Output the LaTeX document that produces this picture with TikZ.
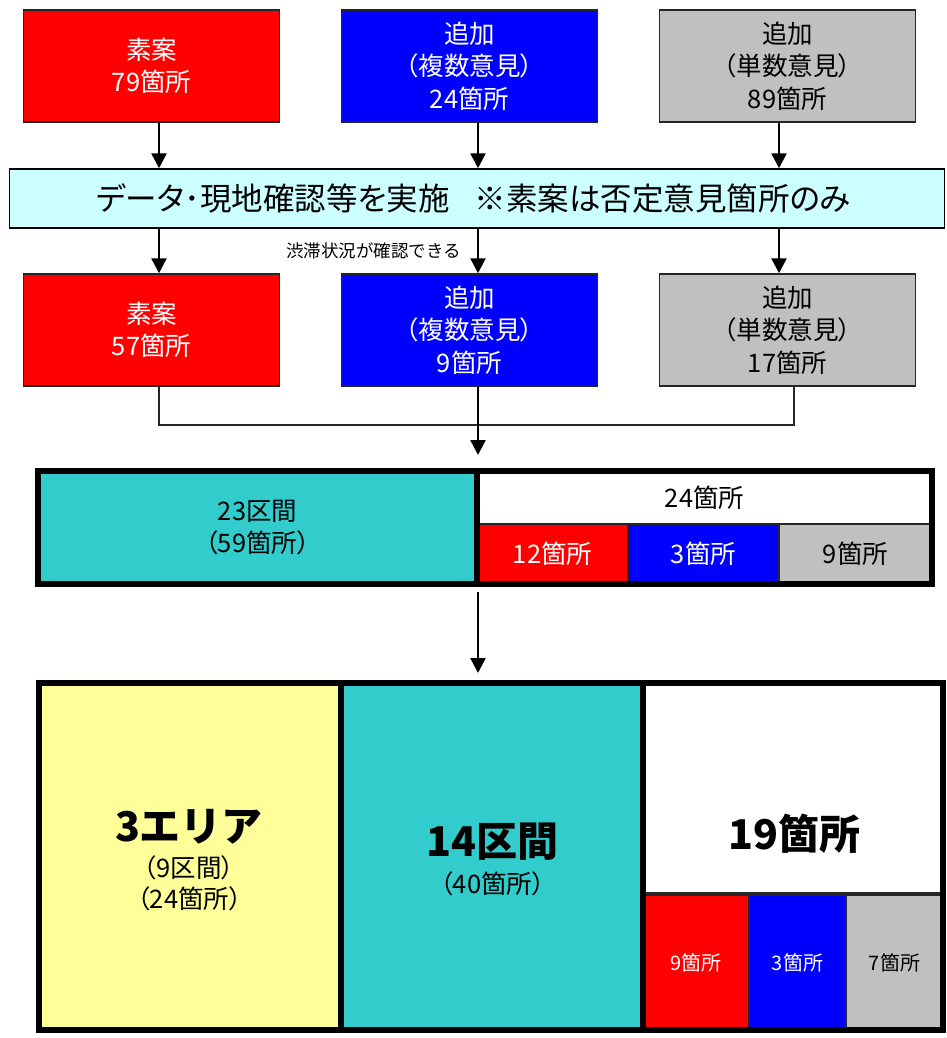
\documentclass[tikz,border=0pt]{standalone}
\usepackage{fontspec}
\newfontfamily\jp{Noto Sans CJK JP}[RawFeature=+palt]
\newfontfamily\jpn{Noto Sans CJK JP}
\usetikzlibrary{arrows.meta}
\definecolor{tealc}{HTML}{33CCCC}
\definecolor{yellowc}{HTML}{FFFF99}
\definecolor{grayc}{HTML}{C0C0C0}
\definecolor{cyanc}{HTML}{CCFFFF}
\definecolor{redc}{HTML}{FF0000}
\definecolor{bluec}{HTML}{0000FF}
\begin{document}
\begin{tikzpicture}[x=1pt,y=-1pt,
  box/.style={draw=black!85, line width=1.5pt, minimum width=256pt, minimum height=112pt,
    inner sep=0pt, align=center, font=\jp\fontsize{25.5}{32.5}\selectfont},
  redbox/.style={box, fill=redc, text=white},
  bluebox/.style={box, fill=bluec, text=white},
  graybox/.style={box, fill=grayc, text=black},
  banner/.style={draw=black, line width=1.5pt, fill=cyanc, minimum width=935pt, minimum height=59pt,
    inner sep=0pt, font=\jp\fontsize{31.5}{38}\selectfont},
  arr/.style={line width=2.5pt, -{Triangle[length=15pt,width=15pt]}},
  conn/.style={line width=1.5pt, draw=black!85},
  cell/.style={draw=black!85, line width=1.5pt, inner sep=0pt, outer sep=0pt, align=center,
    font=\jp\fontsize{25.5}{32.5}\selectfont},
  frame/.style={draw=black, line width=6pt, inner sep=0pt},
  divider/.style={draw=black, line width=6pt},
  bigtxt/.style={inner sep=0pt, font=\jpn\bfseries\fontsize{41}{48}\selectfont},
  ptxt/.style={inner sep=0pt, font=\jp\fontsize{25.5}{30}\selectfont},
  subtxt/.style={font=\jp\fontsize{20}{24}\selectfont},
  note/.style={inner sep=0pt, font=\jpn\fontsize{17.5}{20}\selectfont}
]
\useasboundingbox (0,0) rectangle (947,1038);

% x positions of arrows
\coordinate (ax1) at (159,0);
\coordinate (ax2) at (478,0);
\coordinate (ax3) at (779,0);
\coordinate (cx3) at (794,0);

% top row
\node[redbox] (r1) at (151.5,66) {素案\\79箇所};
\node[bluebox] (b1) at (469.5,66) {追加\\（複数意見）\\24箇所};
\node[graybox] (g1) at (787.5,66) {追加\\（単数意見）\\89箇所};

% banner
\node[banner] (bn) at (477,198.5) {データ･現地確認等を実施\hspace{25pt}※素案は否定意見箇所のみ\hspace*{7pt}};

% second row
\node[redbox] (r2) at (151.5,330) {素案\\57箇所};
\node[bluebox] (b2) at (469.5,330) {追加\\（複数意見）\\9箇所};
\node[graybox] (g2) at (787.5,330) {追加\\（単数意見）\\17箇所};

\node[note] (nt) at (373.5,250.5) {渋滞状況が確認できる};

\draw[arr] (r1.south -| ax1) -- (bn.north -| ax1);
\draw[arr] (b1.south -| ax2) -- (bn.north -| ax2);
\draw[arr] (g1.south -| ax3) -- (bn.north -| ax3);
\draw[arr] (bn.south -| ax1) -- (r2.north -| ax1);
\draw[arr] (bn.south -| ax2) -- (b2.north -| ax2);
\draw[arr] (bn.south -| ax3) -- (g2.north -| ax3);

\coordinate (j1) at (159,425);
\coordinate (j2) at (794,425);
\draw[conn] (r2.south -| ax1) -- (j1) -- (j2) -- (g2.south -| cx3);

% middle block
\node[cell, fill=tealc, minimum width=439pt, minimum height=113pt] (m1) at (257.5,527.5) {23区間\\（59箇所）};
\node[cell, fill=white, minimum width=455pt, minimum height=53pt] (m2) at (704.5,497.5) {24箇所};
\node[cell, fill=redc, text=white, minimum width=151pt, minimum height=60pt] (m3) at (552.5,554) {12箇所};
\node[cell, fill=bluec, text=white, minimum width=151pt, minimum height=60pt] (m4) at (703.5,554) {3箇所};
\node[cell, fill=grayc, minimum width=153pt, minimum height=60pt] (m5) at (855.5,554) {9箇所};
\node[frame, minimum width=894pt, minimum height=113pt] (mid) at (485,527.5) {};
\draw[divider] (m1.east |- mid.north) -- (m1.east |- mid.south);

\draw[arr, shorten >=13pt] (b2.south -| ax2) -- (mid.north -| ax2);

% bottom block
\node[cell, fill=yellowc, minimum width=302pt, minimum height=347pt] (y1) at (190,856.5) {};
\node[cell, fill=tealc, minimum width=302pt, minimum height=347pt] (t1) at (492,856.5) {};
\node[cell, fill=white, line width=3pt, minimum width=300pt, minimum height=210.5pt] (w1) at (793,788.25) {};
\node[cell, subtxt, fill=redc, text=white, minimum width=106pt, minimum height=136.5pt] (s1) at (696,963) {9箇所};
\node[cell, subtxt, fill=bluec, text=white, minimum width=97pt, minimum height=136.5pt] (s2) at (797.5,963) {3箇所};
\node[cell, subtxt, fill=grayc, minimum width=97pt, minimum height=136.5pt] (s3) at (894.5,963) {7箇所};
\node[frame, minimum width=904pt, minimum height=347pt] (bot) at (491,856.5) {};
\draw[divider] (y1.east |- bot.north) -- (y1.east |- bot.south);
\draw[divider] (t1.east |- bot.north) -- (t1.east |- bot.south);

\draw[arr, shorten <=5pt, shorten >=7pt] (mid.south -| ax2) -- (bot.north -| ax2);

\node[bigtxt] (y1a) at (189,826.5) {3エリア};
\node[ptxt] (y1b) at (189,867.5) {（9区間）};
\node[ptxt] (y1c) at (189.5,899) {（24箇所）};
\node[bigtxt] (t1a) at (492.5,841.5) {14区間};
\node[ptxt] (t1b) at (492.5,884) {（40箇所）};
\node[bigtxt] (w1a) at (794.5,834) {19箇所};
\end{tikzpicture}
\end{document}
